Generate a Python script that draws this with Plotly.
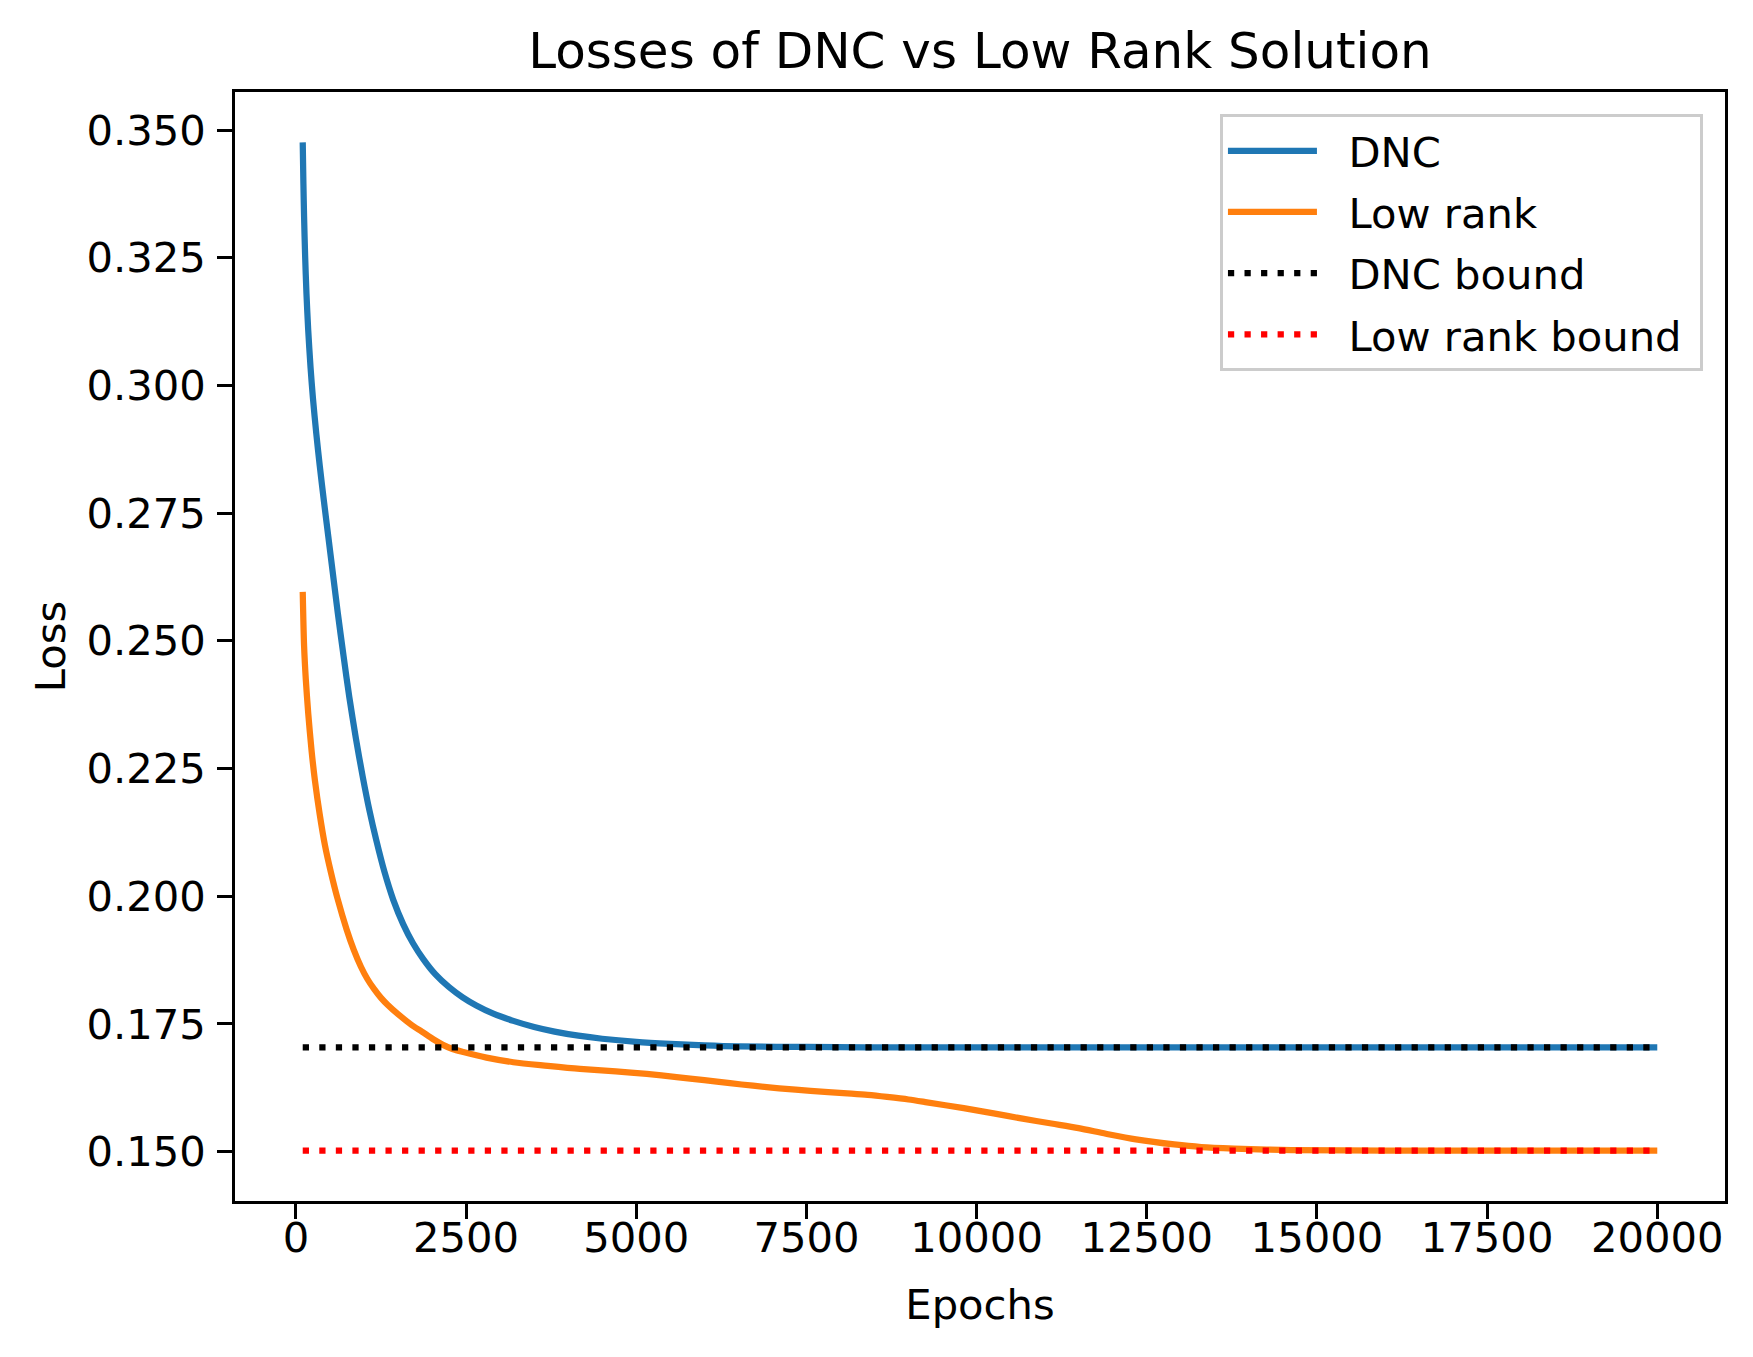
import plotly.graph_objects as go

# ---- data ----
dnc_epochs = [100, 110, 120, 135, 155, 180, 215, 250, 300, 350, 410, 475, 540, 615,
              700, 784, 880, 980, 1080, 1180, 1300, 1430, 1577, 1720, 1871, 2050, 2250,
              2450, 2650, 2900, 3194, 3500, 3800, 4150, 4500, 5000, 5500, 6000, 6500,
              7500, 9000, 12000, 16000, 20000]
dnc_loss = [0.3476, 0.3395, 0.3330, 0.3255, 0.3180, 0.3110, 0.3035, 0.2975, 0.2905,
            0.2843, 0.2775, 0.2705, 0.2635, 0.2555, 0.2470, 0.2390, 0.2310, 0.2235,
            0.2168, 0.2110, 0.2048, 0.1993, 0.1945, 0.1908, 0.1877, 0.1847, 0.1822,
            0.1802, 0.1786, 0.1770, 0.1756, 0.1744, 0.1735, 0.1727, 0.1721, 0.1715,
            0.1711, 0.1708, 0.1706, 0.1705, 0.1704, 0.1704, 0.1704, 0.1704]

lr_epochs = [100, 120, 145, 181, 230, 279, 350, 426, 512, 612, 745, 850, 955, 1050,
             1150, 1250, 1350, 1500, 1700, 1850, 2018, 2160, 2300, 2459, 2800, 3194,
             3700, 4174, 4700, 5154, 5592, 6000, 6378, 6716, 7100, 7561, 8100, 8400,
             8685, 9000, 9248, 9811, 10250, 10654, 11100, 11498, 11900, 12341, 12903,
             13300, 13783, 14626, 16000, 18000, 20000]
lr_loss = [0.2596, 0.2490, 0.2425, 0.2358, 0.2285, 0.2227, 0.2160, 0.2100, 0.2048,
           0.1995, 0.1935, 0.1895, 0.1862, 0.1838, 0.1818, 0.1801, 0.1787, 0.1769,
           0.1748, 0.1735, 0.1720, 0.1709, 0.1701, 0.1695, 0.1684, 0.1675, 0.1668,
           0.1662, 0.1657, 0.1652, 0.1646, 0.1640, 0.1634, 0.1629, 0.1624, 0.1619,
           0.1614, 0.1611, 0.1607, 0.1602, 0.1597, 0.1585, 0.1575, 0.1565, 0.1555,
           0.1546, 0.1535, 0.1524, 0.1514, 0.1509, 0.1506, 0.1503, 0.1502, 0.1502,
           0.1502]

bound_epochs = [100, 20000]
dnc_bound = [0.1704, 0.1704]
lr_bound = [0.1502, 0.1502]

x_ticks = [0, 2500, 5000, 7500, 10000, 12500, 15000, 17500, 20000]
y_ticks = [0.150, 0.175, 0.200, 0.225, 0.250, 0.275, 0.300, 0.325, 0.350]

FONT = "DejaVu Sans"
FS = 41.7          # 10 pt at 300 dpi
LW = 6.25          # 1.5 pt
SPINE = 3.33       # 0.8 pt
DOT = "6.25px,10.3px"
PAD = "\u00a0\u00a0"

fig = go.Figure()
fig.add_trace(go.Scatter(x=dnc_epochs, y=dnc_loss, mode="lines", name=PAD + "DNC",
                         line=dict(color="#1f77b4", width=LW, shape="spline", smoothing=0.8),
                         legendgroup="a"))
fig.add_trace(go.Scatter(x=lr_epochs, y=lr_loss, mode="lines", name=PAD + "Low rank",
                         line=dict(color="#ff7f0e", width=LW, shape="spline", smoothing=0.8),
                         legendgroup="b"))
fig.add_trace(go.Scatter(x=bound_epochs, y=dnc_bound, mode="lines", name=PAD + "DNC bound",
                         line=dict(color="black", width=LW, dash=DOT),
                         legendgroup="c"))
fig.add_trace(go.Scatter(x=bound_epochs, y=lr_bound, mode="lines",
                         name=PAD + "Low rank bound\u00a0",
                         line=dict(color="#ff0000", width=LW, dash=DOT),
                         legendgroup="d"))

axis_common = dict(showline=True, mirror=True, linecolor="black", linewidth=SPINE,
                   ticks="outside", ticklen=14.6, tickwidth=SPINE, tickcolor="black",
                   showgrid=False, zeroline=False,
                   tickfont=dict(family=FONT, size=FS, color="black"))

fig.update_xaxes(range=[-895, 20995], tickvals=x_ticks,
                 ticktext=[str(v) for v in x_ticks],
                 title=dict(text="Epochs", font=dict(family=FONT, size=FS, color="black"),
                            standoff=30),
                 ticklabelstandoff=-17, **axis_common)
fig.update_yaxes(range=[0.14033, 0.35747], tickvals=y_ticks,
                 ticktext=[f"{v:.3f}" for v in y_ticks],
                 title=dict(text="Loss", font=dict(family=FONT, size=FS, color="black"),
                            standoff=8),
                 ticklabelstandoff=3, **axis_common)

fig.update_layout(
    width=1753, height=1357,
    margin=dict(l=235, r=28, t=92, b=156, autoexpand=False),
    paper_bgcolor="white", plot_bgcolor="white",
    title=dict(text="Losses of DNC vs Low Rank Solution", x=0.5, xref="paper",
               xanchor="center", y=1 - 50 / 1357, yanchor="middle",
               font=dict(family=FONT, size=50, color="black")),
    legend=dict(x=0.9852, y=0.980, xanchor="right", yanchor="top",
                bgcolor="rgba(255,255,255,0.8)", bordercolor="#cccccc", borderwidth=3,
                font=dict(family=FONT, size=FS, color="black"),
                itemwidth=89, tracegroupgap=4),
    showlegend=True,
)

fig.write_html("out.html", config={"displayModeBar": False},
               post_script="document.body.style.margin='0px';")
